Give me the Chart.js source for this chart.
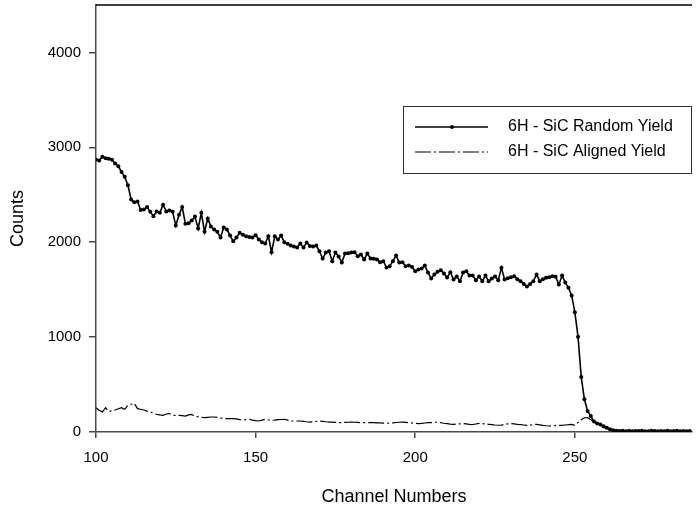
<!DOCTYPE html>
<html>
<head>
<meta charset="utf-8">
<script src="https://cdn.jsdelivr.net/npm/chart.js@4.4.0/dist/chart.umd.min.js"></script>
<style>
  html, body { margin: 0; padding: 0; background: #fff; overflow: hidden; }
  #chart { display: block; }
</style>
</head>
<body>
<canvas id="chart" width="696" height="508"></canvas>
<script>
// channel numbers start at 100, one point per channel
const firstChannel = 100;

// 6H - SiC random yield, channels 100..286
const randomYield = [
    2870, 2860, 2900, 2885, 2880, 2870, 2830, 2800, 2740, 2690,
    2600, 2450, 2420, 2430, 2340, 2345, 2370, 2320, 2275, 2325,
    2310, 2395, 2325, 2335, 2320, 2175, 2290, 2370, 2195, 2200,
    2230, 2270, 2145, 2310, 2110, 2250, 2165, 2135, 2110, 2050,
    2155, 2135, 2070, 2010, 2050, 2100, 2080, 2063, 2055, 2050,
    2073, 2028, 2000, 1986, 2063, 1895, 2063, 2028, 2070, 2000,
    1985, 1965, 1955, 1944, 1986, 1944, 1996, 1960, 1955, 1965,
    1905, 1828, 1891, 1905, 1800, 1891, 1850, 1786, 1880, 1885,
    1891, 1894, 1852, 1870, 1818, 1880, 1828, 1825, 1818, 1790,
    1800, 1733, 1747, 1800, 1860, 1786, 1790, 1747, 1754, 1740,
    1695, 1712, 1723, 1754, 1681, 1617, 1660, 1690, 1705, 1670,
    1628, 1684, 1607, 1638, 1589, 1681, 1695, 1649, 1649, 1600,
    1638, 1589, 1649, 1589, 1617, 1638, 1600, 1730, 1607, 1620,
    1630, 1642, 1610, 1589, 1560, 1534, 1560, 1589, 1660, 1589,
    1610, 1625, 1630, 1642, 1635, 1555, 1649, 1576, 1520, 1439,
    1263, 1004, 579, 344, 221, 168, 110, 90, 80, 60,
    46, 30, 18, 12, 10, 14, 9, 12, 8, 11,
    10, 13, 9, 8, 12, 10, 7, 11, 9, 12,
    8, 10, 13, 9, 11, 8, 10
];

// 6H - SiC aligned yield, channels 100..286
const alignedYield = [
    257, 230, 211, 257, 215, 225, 232, 245, 257, 239,
    280, 292, 302, 246, 240, 232, 220, 211, 195, 186,
    180, 176, 190, 194, 176, 176, 176, 172, 168, 180,
    186, 162, 160, 155, 152, 155, 158, 158, 155, 148,
    141, 141, 141, 141, 138, 130, 126, 130, 134, 126,
    120, 116, 125, 134, 128, 123, 126, 130, 132, 134,
    125, 116, 116, 116, 116, 112, 108, 105, 108, 112,
    116, 112, 108, 105, 104, 102, 100, 99, 101, 103,
    105, 103, 101, 99, 99, 99, 99, 99, 97, 97,
    94, 94, 92, 96, 100, 103, 105, 102, 99, 95,
    91, 88, 90, 95, 99, 99, 102, 105, 98, 92,
    88, 84, 81, 84, 86, 88, 85, 81, 78, 84,
    90, 88, 84, 81, 78, 74, 71, 72, 80, 86,
    88, 85, 80, 78, 74, 70, 73, 78, 81, 76,
    70, 66, 63, 65, 67, 69, 70, 74, 77, 81,
    70, 100, 130, 150, 151, 130, 105, 90, 70, 46,
    38, 28, 20, 12, 8, 6, 5, 7, 4, 6,
    5, 3, 6, 4, 5, 3, 4, 6, 3, 5,
    4, 3, 5, 4, 3, 5, 4
];

const seriesNames = ['6H - SiC Random Yield', '6H - SiC Aligned Yield'];
const xTicks = [100, 150, 200, 250];
const yTicks = [0, 1000, 2000, 3000, 4000];

const channels = randomYield.map((_, i) => firstChannel + i);
const toPoints = (vals) => vals.map((v, i) => ({ x: channels[i], y: v }));

const FONT = '"Liberation Sans", Arial, sans-serif';
const AXIS = '#4a4a4a';

// legend box inside the plot + top frame line
const boxLegend = {
    id: 'boxLegend',
    afterDraw(chart) {
        const ctx = chart.ctx;
        const area = chart.chartArea;
        ctx.save();
        ctx.strokeStyle = '#000';
        ctx.lineWidth = 1.5;
        ctx.beginPath();
        ctx.moveTo(area.left, area.top);
        ctx.lineTo(area.right, area.top);
        ctx.stroke();

        const bx = 403, by = 106, bw = 288, bh = 67;
        ctx.lineWidth = 1;
        ctx.strokeStyle = '#333';
        ctx.strokeRect(bx + 0.5, by + 0.5, bw, bh);

        chart.data.datasets.forEach((ds, i) => {
            const y = by + 21 + i * 25;
            ctx.beginPath();
            ctx.setLineDash(ds.borderDash || []);
            ctx.lineWidth = ds.borderWidth;
            ctx.strokeStyle = ds.borderColor;
            ctx.moveTo(415, y);
            ctx.lineTo(488, y);
            ctx.stroke();
            ctx.setLineDash([]);
            if (ds.pointRadius > 0) {
                ctx.beginPath();
                ctx.arc(452, y, ds.pointRadius, 0, Math.PI * 2);
                ctx.fillStyle = ds.borderColor;
                ctx.fill();
            }
            ctx.fillStyle = '#000';
            ctx.font = '16px ' + FONT;
            ctx.textBaseline = 'middle';
            ctx.textAlign = 'left';
            ctx.fillText(ds.label, 508, y);
        });
        ctx.restore();
    }
};

new Chart(document.getElementById('chart'), {
    type: 'line',
    data: {
        datasets: [
            {
                label: seriesNames[0],
                data: toPoints(randomYield),
                borderColor: '#000',
                backgroundColor: '#000',
                borderWidth: 1.6,
                pointRadius: 2,
                pointBorderWidth: 0,
                pointBackgroundColor: '#000',
                tension: 0,
            },
            {
                label: seriesNames[1],
                data: toPoints(alignedYield),
                borderColor: '#000',
                borderWidth: 1.2,
                borderDash: [16, 3, 2, 3],
                pointRadius: 0,
                tension: 0,
            },
        ],
    },
    options: {
        responsive: false,
        animation: false,
        layout: { padding: { top: 5, right: 0, left: 0, bottom: 0 } },
        plugins: {
            legend: { display: false },
            tooltip: { enabled: false },
        },
        scales: {
            x: {
                type: 'linear',
                min: 100,
                max: 286.7,
                afterBuildTicks: (s) => { s.ticks = xTicks.map(v => ({ value: v })); },
                afterFit: (s) => { s.height = 76; s.paddingLeft = 0; s.paddingRight = 0; },
                ticks: {
                    color: '#000',
                    font: { family: FONT, size: 15 },
                    padding: 11,
                    callback: (v) => String(v),
                },
                grid: { drawOnChartArea: false, tickLength: 6, color: AXIS, lineWidth: 1.5 },
                border: { color: AXIS, width: 1.5 },
                title: {
                    display: true,
                    text: 'Channel Numbers',
                    color: '#000',
                    font: { family: FONT, size: 18 },
                    padding: { top: 0, bottom: 0 },
                },
            },
            y: {
                min: 0,
                max: 4500,
                afterBuildTicks: (s) => { s.ticks = yTicks.map(v => ({ value: v })); },
                afterFit: (s) => { s.width = 96; s.paddingTop = 0; s.paddingBottom = 0; },
                ticks: {
                    color: '#000',
                    font: { family: FONT, size: 15 },
                    padding: 8,
                    callback: (v) => String(v),
                },
                grid: { drawOnChartArea: false, tickLength: 7, color: AXIS, lineWidth: 1.5 },
                border: { color: AXIS, width: 1.5 },
                title: {
                    display: true,
                    text: 'Counts',
                    color: '#000',
                    font: { family: FONT, size: 18 },
                    padding: { top: 7, bottom: 0 },
                },
            },
        },
    },
    plugins: [boxLegend],
});
</script>
</body>
</html>
